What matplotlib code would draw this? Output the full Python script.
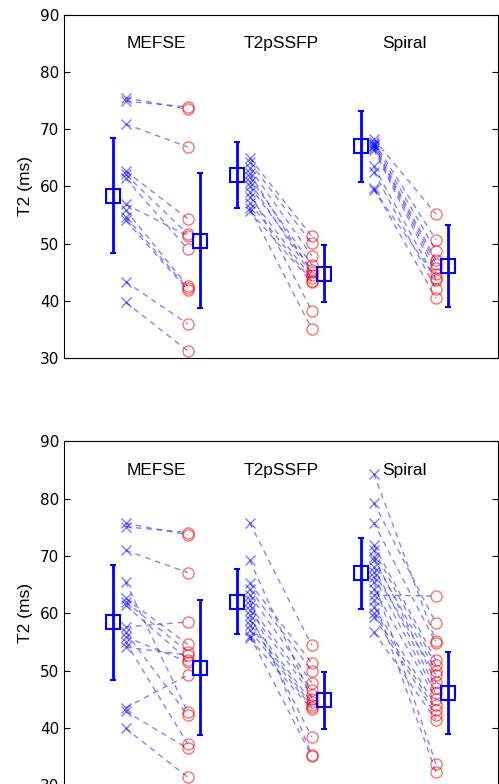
import matplotlib
matplotlib.use("Agg")
import matplotlib.pyplot as plt
import numpy as np

plt.rcParams['font.family'] = ['Liberation Sans', 'DejaVu Sans']

methods = ["MEFSE", "T2pSSFP", "Spiral"]
pre_pos = [1, 3, 5]
post_pos = [2, 4, 6]

# group means / sd (same in both panels)
pre_mean = [58.4, 62.0, 67.0]
pre_sd = [10.0, 5.7, 6.2]
post_mean = [50.5, 44.8, 46.1]
post_sd = [11.8, 5.0, 7.2]

# top panel: individual T2 values, before -> after
top_pre_mefse = [75.5, 74.9, 70.9, 62.7, 62.1, 61.4, 56.9, 55.9, 54.7, 54.1, 43.4, 39.8]
top_post_mefse = [73.5, 73.9, 66.9, 54.4, 51.7, 49.1, 51.4, 42.6, 42.2, 41.9, 36.0, 31.3]
top_pre_ssfp = [65.0, 64.2, 63.2, 62.3, 61.6, 60.8, 60.0, 59.1, 58.2, 57.1, 56.2, 55.7]
top_post_ssfp = [51.3, 50.1, 47.9, 45.0, 46.3, 44.5, 45.5, 38.3, 44.0, 43.5, 35.1, 43.3]
top_pre_spiral = [68.3, 67.8, 67.5, 67.2, 67.0, 66.7, 66.4, 63.5, 62.6, 59.7, 59.4]
top_post_spiral = [55.2, 50.7, 48.8, 47.2, 46.5, 45.7, 44.8, 43.7, 42.1, 40.5, 44.0]

# bottom panel: all subjects
bot_pre_mefse = [75.7, 75.1, 71.0, 65.5, 62.6, 62.0, 61.4, 57.6, 56.7, 55.9, 55.0, 54.1, 43.5, 42.9, 39.9]
bot_post_mefse = [73.7, 74.1, 67.1, 42.8, 54.6, 53.3, 51.9, 58.5, 42.2, 51.5, 37.2, 52.7, 49.2, 36.4, 31.4]
bot_pre_ssfp = [75.8, 69.3, 65.3, 64.2, 63.2, 62.3, 61.4, 60.5, 59.7, 58.8, 57.9, 57.0, 56.1, 55.6]
bot_post_ssfp = [54.4, 45.1, 51.3, 50.0, 47.9, 35.2, 46.6, 45.7, 38.4, 44.5, 44.0, 43.6, 35.0, 43.2]
bot_pre_spiral = [84.4, 79.3, 75.8, 71.9, 71.0, 69.9, 69.3, 68.1, 67.2, 66.4, 65.5, 64.3, 63.2, 62.3, 61.1, 60.0, 59.4, 56.7]
bot_post_spiral = [55.1, 58.3, 54.8, 51.8, 50.9, 48.0, 50.0, 46.9, 49.2, 46.0, 33.7, 45.1, 63.0, 32.3, 43.9, 43.1, 42.2, 41.4]

top_data = [(top_pre_mefse, top_post_mefse), (top_pre_ssfp, top_post_ssfp), (top_pre_spiral, top_post_spiral)]
bot_data = [(bot_pre_mefse, bot_post_mefse), (bot_pre_ssfp, bot_post_ssfp), (bot_pre_spiral, bot_post_spiral)]

yticks = [30, 40, 50, 60, 70, 80, 90]


def draw_panel(ax, data):
    for i, (pre, post) in enumerate(data):
        for a, b in zip(pre, post):
            ax.plot([pre_pos[i], post_pos[i]], [a, b], color=(0.2, 0.2, 1.0), alpha=0.6,
                    ls=(0, (4, 3.5)), lw=1)
        ax.plot([pre_pos[i]] * len(pre), pre, 'x', color='blue', alpha=0.5, ms=6.5, mew=1)
        ax.plot([post_pos[i]] * len(post), post, 'o', mfc='none', mec='red', alpha=0.55, ms=8, mew=1)
        ax.errorbar(pre_pos[i] - 0.2, pre_mean[i], yerr=pre_sd[i], fmt='s', color='blue',
                    mfc='none', ms=10, mew=1.5, elinewidth=2, capsize=2.5, capthick=1.5)
        ax.errorbar(post_pos[i] + 0.2, post_mean[i], yerr=post_sd[i], fmt='s', color='blue',
                    mfc='none', ms=10, mew=1.5, elinewidth=2, capsize=2.5, capthick=1.5)
        ax.text((pre_pos[i] + post_pos[i]) / 2, 85, methods[i], ha='center', va='center', fontsize=12.5)
    ax.set_xlim(0, 7)
    ax.set_ylim(30, 90)
    ax.set_xticks([])
    ax.set_yticks(yticks)
    ax.set_yticklabels([str(t) for t in yticks], family='DejaVu Sans', fontsize=11)
    ax.tick_params(axis='y', direction='in', right=True, length=4, pad=3)
    ax.set_ylabel("T2 (ms)", fontsize=12.5, labelpad=5)
    for s in ax.spines.values():
        s.set_linewidth(0.8)


fig = plt.figure(figsize=(4.99, 7.84), dpi=100)
ax1 = fig.add_axes([0.1273, 0.5430, 0.8707, 0.4383])
ax2 = fig.add_axes([0.1273, -0.0014, 0.8707, 0.4383])
draw_panel(ax1, top_data)
draw_panel(ax2, bot_data)

fig.savefig("out.png", dpi=100)
